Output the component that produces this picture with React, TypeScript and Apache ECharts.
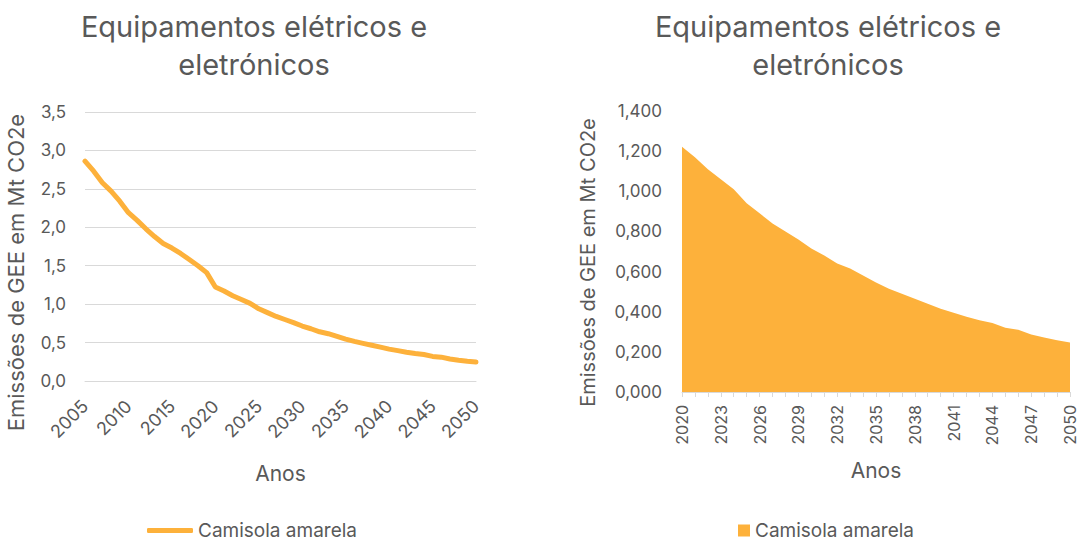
import React, { useEffect, useRef } from "react";
import * as echarts from "echarts";

const yearsLeft: string[] = [];
for (let y = 2005; y <= 2050; y++) yearsLeft.push(String(y));
const yearsRight: string[] = yearsLeft.slice(15);

// Emissions 2005–2019
const emissionsHist: number[] = [
  2.86, 2.73, 2.58, 2.47, 2.34, 2.19, 2.09, 1.98, 1.88, 1.79, 1.73, 1.66, 1.58, 1.5, 1.41,
];
// Emissions 2020–2050
const emissionsProj: number[] = [
  1.222, 1.17, 1.11, 1.06, 1.01, 0.94, 0.89, 0.84, 0.8, 0.76, 0.715, 0.68, 0.64, 0.615, 0.58,
  0.545, 0.515, 0.49, 0.465, 0.44, 0.415, 0.395, 0.375, 0.357, 0.344, 0.32, 0.31, 0.286, 0.271,
  0.258, 0.246,
];
const emissionsAll: number[] = emissionsHist.concat(emissionsProj);

const titleText = "Equipamentos elétricos e\neletrónicos";
const seriesName = "Camisola amarela";
const yName = "Emissões de GEE em Mt CO2e";
const xName = "Anos";

const ORANGE = "#FDB13B";
const GREY = "#595959";
const FONT = "Inter";

export default function App() {
  const ref = useRef<HTMLDivElement>(null);
  useEffect(() => {
    if (!ref.current) return;
    const chart = echarts.init(ref.current, null, { renderer: "svg" });
    const axisLabel = { color: GREY, fontSize: 17, fontFamily: FONT };
    const titleStyle = { color: GREY, fontSize: 29, fontWeight: "normal", fontFamily: FONT, lineHeight: 38 };
    const legendText = { color: GREY, fontSize: 19, fontFamily: FONT };
    chart.setOption({
      animation: false,
      backgroundColor: "#ffffff",
      title: [
        { text: titleText, left: 249, top: 2, textAlign: "center", textStyle: titleStyle },
        { text: titleText, left: 823, top: 2, textAlign: "center", textStyle: titleStyle },
      ],
      legend: [
        {
          left: 147,
          top: 521,
          padding: 0,
          data: [{ name: seriesName, icon: "roundRect" }],
          itemWidth: 46,
          itemHeight: 5,
          textStyle: legendText,
          selectedMode: false,
        },
        {
          left: 738,
          top: 521,
          padding: 0,
          data: [{ name: seriesName, icon: "rect" }],
          itemWidth: 12,
          itemHeight: 12,
          textStyle: legendText,
          selectedMode: false,
        },
      ],
      grid: [
        { left: 85, right: 604, top: 112, bottom: 160 },
        { left: 682, right: 10, top: 111, bottom: 149 },
      ],
      xAxis: [
        {
          gridIndex: 0,
          type: "category",
          data: yearsLeft,
          boundaryGap: false,
          name: xName,
          nameLocation: "middle",
          nameGap: 82,
          nameTextStyle: { color: GREY, fontSize: 21, fontFamily: FONT },
          axisLine: { show: true, lineStyle: { color: "#d9d9d9" } },
          axisTick: { show: false },
          axisLabel: { ...axisLabel, fontSize: 18, interval: 4, rotate: 45, margin: 22 },
        },
        {
          gridIndex: 1,
          type: "category",
          data: yearsRight,
          boundaryGap: false,
          name: xName,
          nameLocation: "middle",
          nameGap: 68,
          nameTextStyle: { color: GREY, fontSize: 21, fontFamily: FONT },
          axisLine: { show: true, lineStyle: { color: "#d9d9d9" } },
          axisTick: { show: true, interval: 0, length: 5, lineStyle: { color: "#d9d9d9" } },
          axisLabel: { ...axisLabel, fontSize: 16, interval: 2, rotate: 90, margin: 13 },
        },
      ],
      yAxis: [
        {
          gridIndex: 0,
          type: "value",
          min: 0,
          max: 3.5,
          interval: 0.5,
          name: yName,
          nameLocation: "middle",
          nameGap: 58,
          nameTextStyle: { color: GREY, fontSize: 22, fontFamily: FONT, padding: [0, 52, 0, 0] },
          axisLine: { show: false },
          axisTick: { show: false },
          splitLine: { show: true, lineStyle: { color: "#d9d9d9" } },
          axisLabel: { ...axisLabel, margin: 19, formatter: (v: number) => v.toFixed(1).replace(".", ",") },
        },
        {
          gridIndex: 1,
          type: "value",
          min: 0,
          max: 1.4,
          interval: 0.2,
          name: yName,
          nameLocation: "middle",
          nameGap: 84,
          nameTextStyle: { color: GREY, fontSize: 20, fontFamily: FONT, padding: [0, 22, 0, 0] },
          axisLine: { show: false },
          axisTick: { show: false },
          splitLine: { show: false },
          axisLabel: { ...axisLabel, margin: 20, formatter: (v: number) => v.toFixed(3).replace(".", ",") },
        },
      ],
      series: [
        {
          name: seriesName,
          type: "line",
          xAxisIndex: 0,
          yAxisIndex: 0,
          data: emissionsAll,
          symbol: "none",
          lineStyle: { color: ORANGE, width: 5, cap: "round" },
          itemStyle: { color: ORANGE },
        },
        {
          name: seriesName,
          type: "line",
          xAxisIndex: 1,
          yAxisIndex: 1,
          data: emissionsProj,
          symbol: "none",
          lineStyle: { width: 0 },
          areaStyle: { color: ORANGE, opacity: 1 },
          itemStyle: { color: ORANGE },
        },
      ],
    });
    return () => chart.dispose();
  }, []);
  return (
    <div
      ref={ref}
      style={{ position: "fixed", left: 0, top: 0, width: 1080, height: 541 }}
    />
  );
}
